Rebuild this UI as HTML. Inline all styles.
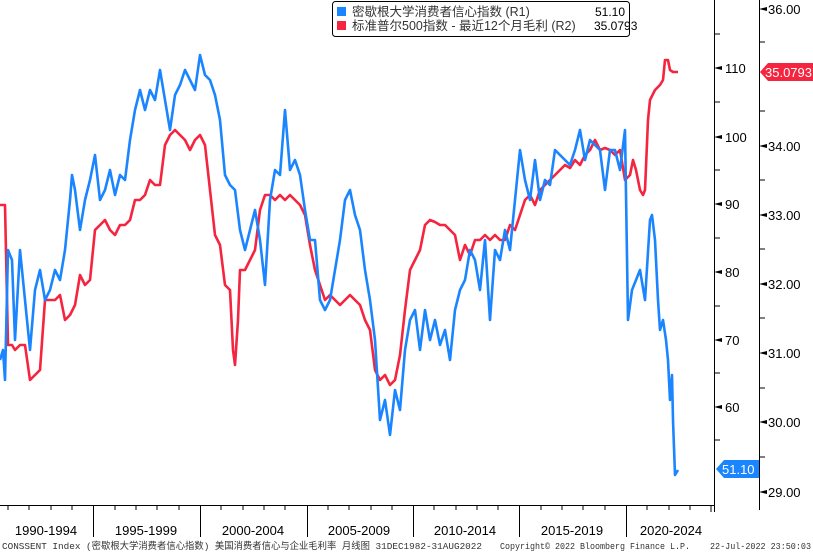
<!DOCTYPE html>
<html><head><meta charset="utf-8"><style>
html,body{margin:0;padding:0;background:#fff;}
svg{display:block;font-family:"Liberation Sans","Noto Sans CJK SC",sans-serif;}
</style></head><body>
<svg width="813" height="552" viewBox="0 0 813 552" xmlns="http://www.w3.org/2000/svg">
<rect width="813" height="552" fill="#fff"/>
<line x1="0" y1="505.5" x2="714" y2="505.5" stroke="#000"/>
<line x1="714.5" y1="0" x2="714.5" y2="512" stroke="#000"/>
<line x1="759.5" y1="0" x2="759.5" y2="510" stroke="#000"/>
<g stroke="#000">
<line x1="93.5" y1="505" x2="93.5" y2="537"/><line x1="200.5" y1="505" x2="200.5" y2="537"/>
<line x1="307.5" y1="505" x2="307.5" y2="537"/><line x1="413.5" y1="505" x2="413.5" y2="537"/>
<line x1="519.5" y1="505" x2="519.5" y2="537"/><line x1="626.5" y1="505" x2="626.5" y2="537"/>
</g>
<g font-size="13" fill="#000" text-anchor="middle">
<text x="46" y="535">1990-1994</text><text x="146" y="535">1995-1999</text>
<text x="253" y="535">2000-2004</text><text x="359" y="535">2005-2009</text>
<text x="465" y="535">2010-2014</text><text x="572" y="535">2015-2019</text>
<text x="671" y="535">2020-2024</text>
</g>
<g font-size="13" fill="#000">
<text x="725" y="73">110</text><text x="725" y="142">100</text><text x="725" y="209">90</text>
<text x="725" y="277">80</text><text x="725" y="345">70</text><text x="725" y="412">60</text>
<text x="725" y="477">50</text>
<text x="768" y="14">36.00</text><text x="768" y="151">34.00</text><text x="768" y="220">33.00</text>
<text x="768" y="289">32.00</text><text x="768" y="358">31.00</text><text x="768" y="427">30.00</text>
<text x="768" y="497">29.00</text>
</g>
<g fill="#000">
<polygon points="714,68 722,66 722,70"/><polygon points="714,137 722,135 722,139"/><polygon points="714,204 722,202 722,206"/>
<polygon points="714,272 722,270 722,274"/><polygon points="714,340 722,338 722,342"/><polygon points="714,407 722,405 722,409"/>
<polygon points="759,9 767,7 767,11"/><polygon points="759,146 767,144 767,148"/><polygon points="759,215 767,213 767,217"/>
<polygon points="759,284 767,282 767,286"/><polygon points="759,353 767,351 767,355"/><polygon points="759,422 767,420 767,424"/>
<polygon points="759,492 767,490 767,494"/>
</g>
<g stroke="#000">
<line x1="714" y1="34" x2="720" y2="34"/><line x1="714" y1="102" x2="720" y2="102"/><line x1="714" y1="170" x2="720" y2="170"/>
<line x1="714" y1="238" x2="720" y2="238"/><line x1="714" y1="306" x2="720" y2="306"/><line x1="714" y1="373" x2="720" y2="373"/>
<line x1="714" y1="440" x2="720" y2="440"/>
<line x1="759" y1="42" x2="765" y2="42"/><line x1="759" y1="111" x2="765" y2="111"/><line x1="759" y1="180" x2="765" y2="180"/>
<line x1="759" y1="249" x2="765" y2="249"/><line x1="759" y1="318" x2="765" y2="318"/><line x1="759" y1="388" x2="765" y2="388"/>
<line x1="759" y1="457" x2="765" y2="457"/>
<line x1="711" y1="505" x2="711" y2="512"/>
</g>
<g stroke="#000">
<line x1="8" y1="505" x2="8" y2="510"/><line x1="29" y1="505" x2="29" y2="510"/><line x1="51" y1="505" x2="51" y2="510"/><line x1="72" y1="505" x2="72" y2="510"/>
<line x1="115" y1="505" x2="115" y2="510"/><line x1="136" y1="505" x2="136" y2="510"/><line x1="157" y1="505" x2="157" y2="510"/><line x1="179" y1="505" x2="179" y2="510"/>
<line x1="221" y1="505" x2="221" y2="510"/><line x1="243" y1="505" x2="243" y2="510"/><line x1="264" y1="505" x2="264" y2="510"/><line x1="285" y1="505" x2="285" y2="510"/>
<line x1="328" y1="505" x2="328" y2="510"/><line x1="349" y1="505" x2="349" y2="510"/><line x1="371" y1="505" x2="371" y2="510"/><line x1="392" y1="505" x2="392" y2="510"/>
<line x1="434" y1="505" x2="434" y2="510"/><line x1="456" y1="505" x2="456" y2="510"/><line x1="477" y1="505" x2="477" y2="510"/><line x1="498" y1="505" x2="498" y2="510"/>
<line x1="541" y1="505" x2="541" y2="510"/><line x1="562" y1="505" x2="562" y2="510"/><line x1="583" y1="505" x2="583" y2="510"/><line x1="605" y1="505" x2="605" y2="510"/>
<line x1="647" y1="505" x2="647" y2="510"/><line x1="669" y1="505" x2="669" y2="510"/><line x1="690" y1="505" x2="690" y2="510"/>
</g>
<polyline fill="none" stroke="#f5243f" stroke-width="2.6" stroke-linejoin="round" points="0,205 5,205 8,345 12,345 15,350 20,345 25,345 30,380 35,375 40,370 45,300 50,300 55,300 60,295 65,320 70,315 75,305 80,275 85,285 90,280 95,230 100,225 105,220 110,230 115,235 120,225 125,225 130,220 135,200 140,200 145,195 150,180 155,185 160,185 165,145 170,135 175,130 180,135 185,140 190,150 195,140 200,135 205,145 210,190 215,235 220,245 225,285 230,290 233,350 235,365 238,320 240,270 245,270 250,260 255,250 260,210 265,195 270,195 275,200 280,195 285,200 290,195 295,200 300,205 305,215 310,245 315,270 320,285 325,300 330,295 335,300 340,305 345,300 350,295 355,300 360,305 365,320 370,330 375,370 380,380 385,375 390,385 395,380 400,355 405,310 410,270 415,260 420,250 425,225 430,220 435,222 440,225 445,225 450,230 455,235 460,260 465,245 470,255 475,240 480,240 485,235 490,240 495,235 500,240 505,240 510,225 515,230 520,215 525,200 530,195 535,205 540,190 545,185 550,180 555,175 560,170 565,165 570,168 575,160 580,165 585,155 590,150 595,140 600,150 605,148 610,150 615,155 620,150 625,180 630,175 633,160 636,170 640,190 643,195 645,190 648,120 650,100 655,90 660,85 663,80 665,60 668,60 670,70 673,72 678,72"/>
<polyline fill="none" stroke="#1a85ff" stroke-width="2.6" stroke-linejoin="round" points="0,360 3,350 5,380 8,250 12,260 15,340 20,250 25,300 30,350 35,290 40,270 45,300 50,290 55,270 60,280 65,250 70,200 72,175 75,190 80,230 85,200 90,180 95,155 100,200 105,190 110,170 115,195 120,175 125,180 130,140 135,110 140,90 145,110 150,90 155,100 160,70 165,100 170,130 175,95 180,85 185,70 190,80 195,90 200,55 205,75 210,80 215,95 220,120 225,175 230,185 235,190 240,230 245,250 250,230 255,210 260,240 265,285 270,200 275,170 280,175 285,110 290,170 295,160 300,175 305,210 310,240 315,240 320,300 325,310 330,300 335,270 340,240 345,200 350,190 355,215 360,230 365,270 370,300 375,340 380,420 385,400 390,435 395,390 400,410 405,350 410,320 415,310 420,350 425,310 430,340 435,320 440,345 445,330 450,360 455,310 460,290 465,280 470,250 475,260 480,290 485,240 490,320 495,250 500,260 505,230 510,250 515,200 520,150 525,180 530,200 535,160 540,200 545,180 550,185 555,150 560,155 565,160 570,165 575,150 580,130 585,160 590,140 595,145 600,150 605,190 610,150 615,150 620,170 625,130 628,320 632,290 636,280 640,270 645,300 650,220 652,215 655,240 658,300 660,330 663,320 666,340 668,360 670,400 672,375 673,420 675,475 678,470"/>
<polygon points="716,469 724,460 759,460 759,478 724,478" fill="#1a85ff"/>
<text x="722" y="474" font-size="13" fill="#fff">51.10</text>
<polygon points="760,72 768,63 813,63 813,81 768,81" fill="#f5243f"/>
<text x="765" y="77" font-size="13" fill="#fff">35.0793</text>
<rect x="332.5" y="1.5" width="297" height="35" rx="3" fill="#fff" stroke="#000"/>
<rect x="337" y="7" width="9" height="9" fill="#1a85ff"/>
<rect x="337" y="21" width="9" height="9" fill="#f5243f"/>
<text x="352" y="16" font-size="12.5" fill="#333">密歇根大学消费者信心指数 (R1)</text>
<text x="595" y="16" font-size="12" fill="#000">51.10</text>
<text x="352" y="30" font-size="12.5" fill="#333">标准普尔500指数 - 最近12个月毛利 (R2)</text>
<text x="594" y="30" font-size="12" fill="#000">35.0793</text>
<text x="2" y="549" font-size="9.5" fill="#333" font-family="Liberation Mono, Noto Sans CJK SC, monospace" textLength="480" lengthAdjust="spacingAndGlyphs">CONSSENT Index (密歇根大学消费者信心指数) 美国消费者信心与企业毛利率  月线图 31DEC1982-31AUG2022</text>
<text x="500" y="549" font-size="9.5" fill="#333" font-family="Liberation Mono, monospace" textLength="190" lengthAdjust="spacingAndGlyphs">Copyright© 2022 Bloomberg Finance L.P.</text>
<text x="710" y="549" font-size="9.5" fill="#333" font-family="Liberation Mono, monospace" textLength="101" lengthAdjust="spacingAndGlyphs">22-Jul-2022 23:50:03</text>
</svg>
</body></html>
